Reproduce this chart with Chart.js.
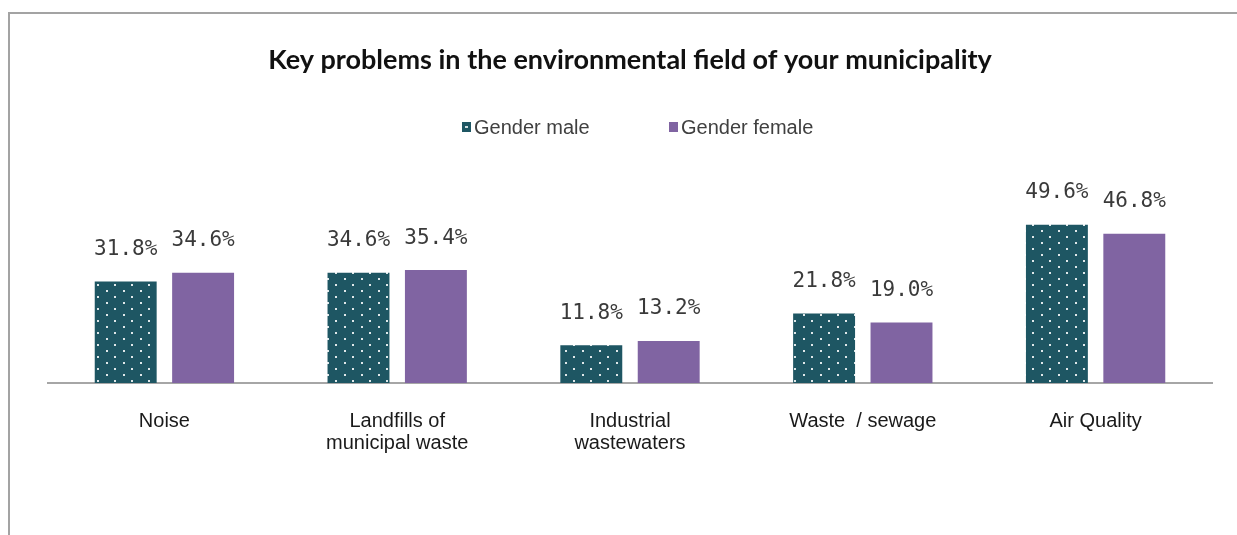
<!DOCTYPE html>
<html>
<head>
<meta charset="utf-8">
<script src="https://cdn.jsdelivr.net/npm/chart.js@4/dist/chart.umd.min.js"></script>
<style>
  html, body { margin: 0; padding: 0; background: #fff; overflow: hidden; }
  #frame { position: absolute; left: 8px; top: 12px; width: 1400px; height: 700px;
           border-top: 2px solid #a3a3a3; border-left: 2px solid #a3a3a3; }
  #wrap { position: absolute; left: 0; top: 0; width: 1237px; height: 535px; }
</style>
</head>
<body>
<div id="frame"></div>
<div id="wrap"><canvas id="chart" width="1237" height="535"></canvas></div>
<script>
const titleText = "Key problems in the environmental field of your municipality";
const categories = [
  ["Noise"],
  ["Landfills of", "municipal waste"],
  ["Industrial", "wastewaters"],
  ["Waste  / sewage"],
  ["Air Quality"]
];
const seriesNames = ["Gender male", "Gender female"];
const maleValues = [31.8, 34.6, 11.8, 21.8, 49.6];
const femaleValues = [34.6, 35.4, 13.2, 19.0, 46.8];

const maleColor = "#1e5663";
const femaleColor = "#8064a2";

// dotted fill for the male bars
function makeDots() {
  const c = document.createElement("canvas");
  c.width = 17;
  c.height = 12;
  const g = c.getContext("2d");
  g.fillStyle = maleColor;
  g.fillRect(0, 0, 17, 12);
  g.fillStyle = "#dfe8ea";
  g.fillRect(4, 2, 2, 2);
  g.fillRect(12, 8, 2, 2);
  return g.createPattern(c, "repeat");
}

const ctx = document.getElementById("chart");
const dots = makeDots();

const valueLabels = {
  id: "valueLabels",
  afterDatasetsDraw(chart) {
    const c = chart.ctx;
    c.save();
    c.font = "21px 'DejaVu Sans Mono'";
    c.fillStyle = "#3a3a3a";
    c.textAlign = "center";
    c.textBaseline = "middle";
    chart.data.datasets.forEach((ds, i) => {
      chart.getDatasetMeta(i).data.forEach((bar, j) => {
        c.fillText(ds.data[j].toFixed(1) + "%", bar.x, bar.y - 32);
      });
    });
    c.restore();
  }
};

const customLegend = {
  id: "customLegend",
  afterDraw(chart) {
    const c = chart.ctx;
    const starts = [462, 669];
    c.save();
    c.font = "20px 'Liberation Sans'";
    c.textBaseline = "middle";
    chart.data.datasets.forEach((ds, i) => {
      const x = starts[i];
      c.fillStyle = i === 0 ? maleColor : femaleColor;
      c.fillRect(x, 122, 9, 10);
      if (i === 0) {
        c.fillStyle = "#cfdde0";
        c.fillRect(x + 3, 126, 3, 2);
      }
      c.fillStyle = "#404040";
      c.fillText(ds.label, x + 12, 128);
    });
    c.restore();
  }
};

new Chart(ctx, {
  type: "bar",
  data: {
    labels: categories,
    datasets: [
      {
        label: seriesNames[0],
        data: maleValues,
        backgroundColor: dots,
        categoryPercentage: 0.665,
        barPercentage: 0.8
      },
      {
        label: seriesNames[1],
        data: femaleValues,
        backgroundColor: femaleColor,
        categoryPercentage: 0.665,
        barPercentage: 0.8
      }
    ]
  },
  options: {
    responsive: false,
    animation: false,
    layout: { padding: { left: 48, right: 25, top: 45, bottom: 0 } },
    plugins: {
      legend: { display: false },
      tooltip: { enabled: false },
      title: {
        display: true,
        text: titleText,
        color: "#111",
        font: { family: "Lato", size: 27, weight: "bold", lineHeight: 1.1 },
        padding: { top: 0, bottom: 85 }
      }
    },
    scales: {
      x: {
        grid: { display: false, drawTicks: false },
        border: { display: true, color: "#a6a6a6", width: 2 },
        ticks: {
          color: "#1a1a1a",
          padding: 27,
          font: { family: "Liberation Sans", size: 20, lineHeight: 1.1 },
          maxRotation: 0,
          autoSkip: false
        },
        afterFit(scale) { scale.height = 152; }
      },
      y: {
        display: false,
        min: 0,
        max: 70
      }
    }
  },
  plugins: [valueLabels, customLegend]
});
</script>
</body>
</html>
